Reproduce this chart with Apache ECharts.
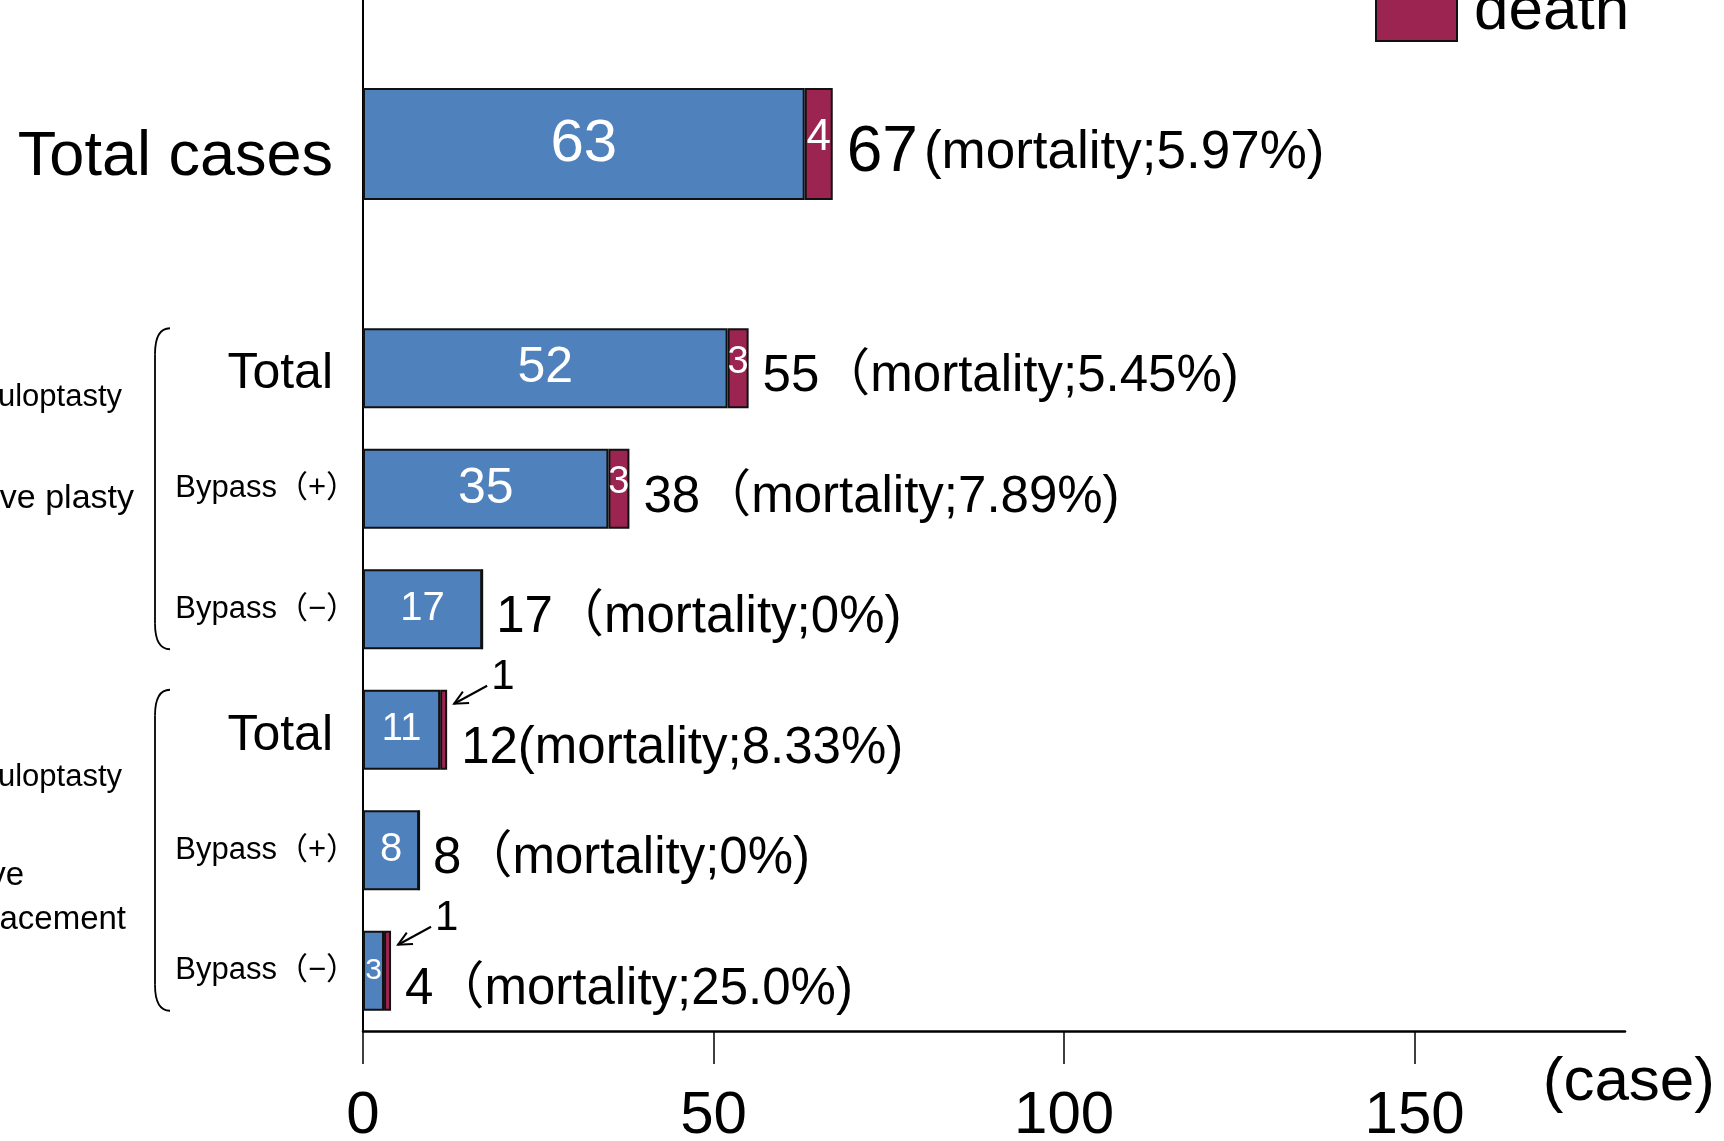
<!DOCTYPE html>
<html>
<head>
<meta charset="utf-8">
<script src="https://cdn.jsdelivr.net/npm/echarts@6/dist/echarts.min.js"></script>
<style>
  html, body { margin: 0; padding: 0; background: #fff; }
  #chart { width: 1724px; height: 1141px; }
</style>
</head>
<body>
<div id="chart"></div>
<script>
// ---- data -------------------------------------------------------------
// overall row
const headLabel     = ['Total cases'];
const headSurvived  = [63];
const headDeaths    = [4];
const headTotals    = [67];
const headMortality = ['5.97%'];

// procedure sub-groups (top to bottom)
const rowLabels = ['Total', 'Bypass（+）', 'Bypass（−）', 'Total', 'Bypass（+）', 'Bypass（−）'];
const survived  = [52, 35, 17, 11, 8, 3];
const deaths    = [3, 3, 0, 1, 0, 1];
const totals    = [55, 38, 17, 12, 8, 4];
const mortality = ['5.45%', '7.89%', '0%', '8.33%', '0%', '25.0%'];
const openParen = ['（', '（', '（', '(', '（', '（'];

// side captions of the two procedure groups
const groupRows  = [[0, 2], [3, 5]];
const groupLines = [['Annuloptasty', 'Valve plasty'], ['Annuloptasty', 'Valve', 'replacement']];

const xTicks = [0, 50, 100, 150];

// ---- styling / layout ------------------------------------------------
const FONT = "'Liberation Sans', Arial, 'Noto Sans CJK JP', sans-serif";
const BLUE = '#4F81BD';
const MAROON = '#9B2450';
const EDGE = '#111';
const X_MAX = 180;
const HEAD_BAR = 112;
const ROW_BAR = 80;
const innerFont = [50, 50, 40, 38, 40, 30];
const groupLineDy = [[-91, 10], [-73, 26, 70]];
const groupLineRight = [[122, 134], [122, 24, 126]];
const groupLineFont = [[31, 34], [31, 33, 33]];

const chart = echarts.init(document.getElementById('chart'), null, { renderer: 'canvas' });

const barEdge = { borderColor: EDGE, borderWidth: 2 };

function deathLabel(size) {
  return {
    show: true, position: 'inside', color: '#fff', fontSize: size, fontFamily: FONT,
    offset: [0, -6],
    formatter: p => (p.value >= 2 ? String(p.value) : '')
  };
}

function arrowCallout(endX, barTop) {
  const tip = [endX + 7, barTop + 14];
  const tail = [endX + 40, barTop - 4];
  const dx = tip[0] - tail[0], dy = tip[1] - tail[1];
  const len = Math.hypot(dx, dy);
  const ux = dx / len, uy = dy / len;
  const head = (ang) => {
    const c = Math.cos(ang), s = Math.sin(ang);
    const bx = -(ux * c - uy * s), by = -(ux * s + uy * c);
    return [tip[0] + bx * 15, tip[1] + by * 15];
  };
  const stroke = { stroke: '#000', lineWidth: 2, fill: null };
  return [
    { type: 'line', shape: { x1: tail[0], y1: tail[1], x2: tip[0], y2: tip[1] }, style: stroke },
    { type: 'polyline', shape: { points: [head(0.45), tip, head(-0.45)] }, style: stroke },
    { type: 'text', style: { text: '1', x: endX + 44, y: barTop - 12, align: 'left', verticalAlign: 'middle',
      fill: '#000', fontSize: 42, fontFamily: FONT } }
  ];
}

const option = {
  animation: false,
  backgroundColor: '#fff',
  textStyle: { fontFamily: FONT, color: '#000' },
  legend: {
    data: ['death'],
    left: 1370, top: -24,
    icon: 'rect', itemWidth: 81, itemHeight: 58,
    selectedMode: false,
    textStyle: { fontSize: 62, color: '#000', fontFamily: FONT, padding: [0, 0, 0, 12] }
  },
  grid: [
    { left: 363, right: 99, top: -20, height: 328, outerBoundsMode: 'none', containLabel: false },
    { left: 363, right: 99, top: 308, bottom: 110, outerBoundsMode: 'none', containLabel: false }
  ],
  xAxis: [
    { gridIndex: 0, type: 'value', min: 0, max: X_MAX, show: false },
    {
      gridIndex: 1, type: 'value', min: 0, max: X_MAX, interval: 50,
      axisLine: { show: true, lineStyle: { color: '#000', width: 2.5 } },
      axisTick: { show: true, inside: false, length: 33, customValues: xTicks,
        lineStyle: { color: '#000', width: 1.5 } },
      axisLabel: { customValues: xTicks, fontSize: 60, color: '#000', margin: 55, fontFamily: FONT },
      splitLine: { show: false },
      name: '(case)', nameLocation: 'end', nameGap: 90,
      nameTextStyle: { fontSize: 62, color: '#000', fontFamily: FONT, align: 'right',
        verticalAlign: 'top', padding: [21, 0, 0, 0] }
    }
  ],
  yAxis: [
    {
      gridIndex: 0, type: 'category', data: headLabel,
      axisLine: { show: true, lineStyle: { color: '#000', width: 2 } },
      axisTick: { show: false },
      axisLabel: {
        margin: 30, color: '#000', fontFamily: FONT,
        formatter: (v) => '{big|' + v + '}',
        rich: { big: { fontSize: 63, fontFamily: FONT, color: '#000', padding: [28, 0, 0, 0] } }
      }
    },
    {
      gridIndex: 1, type: 'category', data: rowLabels, inverse: true,
      axisLine: { show: true, lineStyle: { color: '#000', width: 2 } },
      axisTick: { show: false },
      axisLabel: {
        margin: 6, color: '#000', fontFamily: FONT,
        formatter: (v) => (v === 'Total' ? '{big|' + v + '}{sp| }' : '{small|' + v + '}'),
        rich: {
          big: { fontSize: 50, fontFamily: FONT, color: '#000', padding: [12, 0, 0, 0] },
          sp: { width: 24, fontSize: 20 },
          small: { fontSize: 31, fontFamily: FONT, color: '#000' }
        }
      }
    }
  ],
  series: [
    {
      name: 'survival', type: 'bar', xAxisIndex: 0, yAxisIndex: 0, stack: 'head', barWidth: HEAD_BAR,
      itemStyle: Object.assign({ color: BLUE }, barEdge),
      label: { show: true, position: 'inside', color: '#fff', fontSize: 60, fontFamily: FONT },
      data: headSurvived
    },
    {
      name: 'death', type: 'bar', xAxisIndex: 0, yAxisIndex: 0, stack: 'head', barWidth: HEAD_BAR,
      itemStyle: Object.assign({ color: MAROON }, barEdge),
      label: deathLabel(44),
      data: headDeaths
    },
    {
      name: 'survival', type: 'bar', xAxisIndex: 1, yAxisIndex: 1, stack: 'rows', barWidth: ROW_BAR,
      itemStyle: Object.assign({ color: BLUE }, barEdge),
      label: { show: true, position: 'inside', color: '#fff', fontFamily: FONT },
      data: survived.map((v, i) => ({ value: v, label: { fontSize: innerFont[i] } }))
    },
    {
      name: 'death', type: 'bar', xAxisIndex: 1, yAxisIndex: 1, stack: 'rows', barWidth: ROW_BAR,
      itemStyle: Object.assign({ color: MAROON }, barEdge),
      label: deathLabel(38),
      data: deaths
    },
    {
      // total + mortality text next to the overall bar
      type: 'custom', xAxisIndex: 0, yAxisIndex: 0, silent: true,
      data: headTotals.map((t, i) => [t, i]),
      renderItem: (params, api) => {
        const i = params.dataIndex;
        const p = api.coord([api.value(0), api.value(1)]);
        return {
          type: 'text',
          style: {
            text: '{n|' + headTotals[i] + '}{t|(mortality;' + headMortality[i] + ')}',
            x: p[0] + 14, y: p[1] + 9, align: 'left', verticalAlign: 'middle',
            rich: {
              n: { fontSize: 64, fontFamily: FONT, fill: '#000', padding: [0, 6, 0, 0] },
              t: { fontSize: 53, fontFamily: FONT, fill: '#000' }
            }
          }
        };
      }
    },
    {
      // total + mortality text (and a callout for one-case deaths) per sub-group
      type: 'custom', xAxisIndex: 1, yAxisIndex: 1, silent: true,
      data: totals.map((t, i) => [t, i]),
      renderItem: (params, api) => {
        const i = params.dataIndex;
        const p = api.coord([api.value(0), api.value(1)]);
        const callout = deaths[i] === 1;
        const children = [{
          type: 'text',
          style: {
            text: totals[i] + openParen[i] + 'mortality;' + mortality[i] + ')',
            x: p[0] + 14, y: p[1] + (callout ? 19 : 9), align: 'left', verticalAlign: 'middle',
            fill: '#000', fontSize: 51, fontFamily: FONT
          }
        }];
        if (callout) {
          children.push.apply(children, arrowCallout(p[0], p[1] - ROW_BAR / 2));
        }
        return { type: 'group', children: children };
      }
    }
  ]
};

chart.setOption(option);

// brackets and captions for the procedure groups, placed from the axis scale
const rowY = (i) => chart.convertToPixel({ gridIndex: 1 }, [0, i])[1];
const graphics = [];
const bracketStyle = { stroke: '#000', lineWidth: 1.8, fill: null };
groupRows.forEach((g, gi) => {
  const y0 = rowY(g[0]) - ROW_BAR / 2;
  const y1 = rowY(g[1]) + ROW_BAR / 2;
  const mid = (y0 + y1) / 2;
  graphics.push(
    { type: 'bezierCurve', shape: { x1: 170, y1: y0, cpx1: 160, cpy1: y0, cpx2: 155, cpy2: y0 + 8, x2: 155, y2: y0 + 26 },
      style: bracketStyle },
    { type: 'line', shape: { x1: 155, y1: y0 + 26, x2: 155, y2: y1 - 26 }, style: bracketStyle },
    { type: 'bezierCurve', shape: { x1: 155, y1: y1 - 26, cpx1: 155, cpy1: y1 - 8, cpx2: 160, cpy2: y1, x2: 170, y2: y1 },
      style: bracketStyle }
  );
  groupLines[gi].forEach((txt, li) => {
    graphics.push({
      type: 'text',
      style: {
        text: txt, x: groupLineRight[gi][li], y: mid + groupLineDy[gi][li],
        align: 'right', verticalAlign: 'middle', fill: '#000',
        fontSize: groupLineFont[gi][li], fontFamily: FONT
      }
    });
  });
});
chart.setOption({ graphic: graphics });
</script>
</body>
</html>
